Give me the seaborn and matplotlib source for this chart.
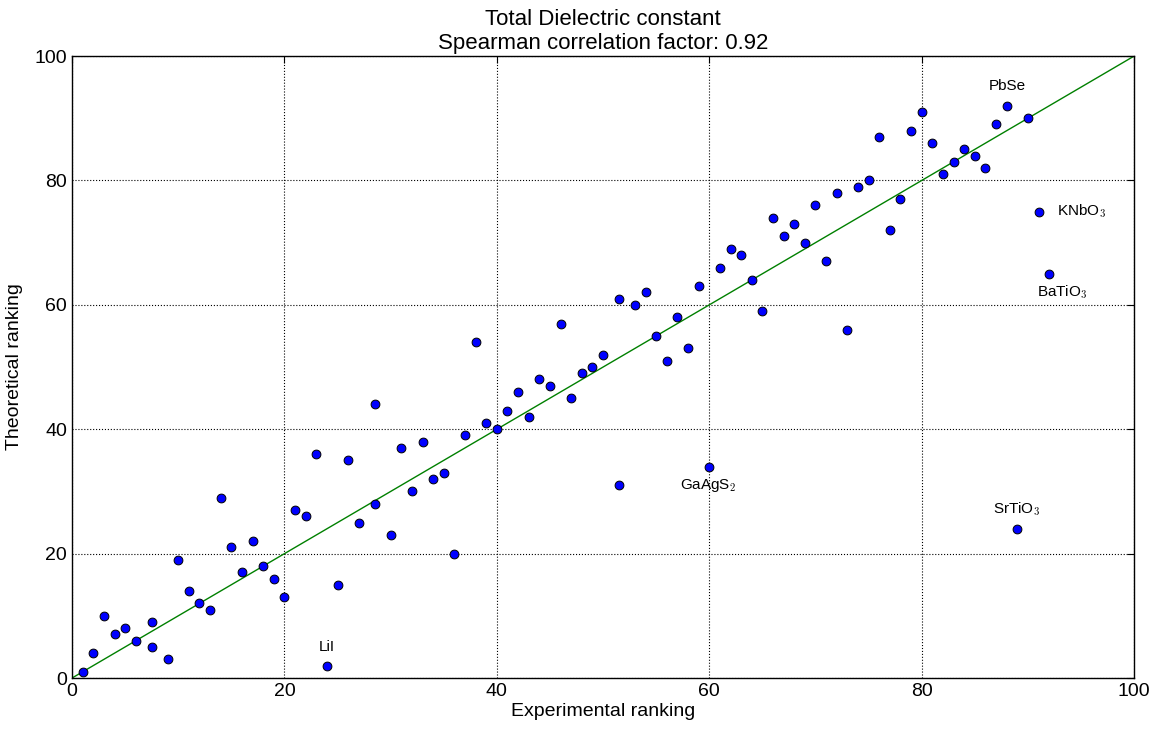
import numpy as np
import pandas as pd
import matplotlib
matplotlib.use('Agg')
import matplotlib.pyplot as plt
import seaborn as sns

# Ranking data
experimental = [1, 2, 3, 4, 5, 6, 7.5, 7.5, 9, 10, 11, 12, 13, 14, 15, 16, 17, 18, 19, 20,
                21, 22, 23, 24, 25, 26, 27, 28.5, 28.5, 30, 31, 32, 33, 34, 35, 36, 37, 38, 39, 40,
                41, 42, 43, 44, 45, 46, 47, 48, 49, 50, 51.5, 51.5, 53, 54, 55, 56, 57, 58, 59, 60,
                61, 62, 63, 64, 65, 66, 67, 68, 69, 70, 71, 72, 73, 74, 75, 76, 77, 78, 79, 80,
                81, 82, 83, 84, 85, 86, 87, 88, 89, 90, 91, 92]
theoretical = [1, 4, 10, 7, 8, 6, 9, 5, 3, 19, 14, 12, 11, 29, 21, 17, 22, 18, 16, 13,
               27, 26, 36, 2, 15, 35, 25, 44, 28, 23, 37, 30, 38, 32, 33, 20, 39, 54, 41, 40,
               43, 46, 42, 48, 47, 57, 45, 49, 50, 52, 61, 31, 60, 62, 55, 51, 58, 53, 63, 34,
               66, 69, 68, 64, 59, 74, 71, 73, 70, 76, 67, 78, 56, 79, 80, 87, 72, 77, 88, 91,
               86, 81, 83, 85, 84, 82, 89, 92, 24, 90, 75, 65]

label_names = ['PbSe', 'KNbO$_3$', 'BaTiO$_3$', 'GaAgS$_2$', 'SrTiO$_3$', 'LiI']
label_x = [88.1, 92.7, 93.2, 59.9, 88.9, 24.0]
label_y = [95.2, 75.0, 62.0, 30.9, 27.2, 5.0]
label_ha = ['center', 'left', 'center', 'center', 'center', 'center']

df = pd.DataFrame({'Experimental': experimental, 'Theoretical': theoretical})

sns.set_style('white')
plt.rcParams['font.family'] = ['Liberation Sans', 'DejaVu Sans']
plt.rcParams['mathtext.fontset'] = 'cm'
for key in ['text.color', 'axes.labelcolor', 'xtick.color', 'ytick.color']:
    plt.rcParams[key] = 'black'

fig = plt.figure(figsize=(11.62, 7.33), dpi=100)
ax = fig.add_axes([0.062, 0.075, 0.914, 0.8485])

ax.plot([0, 100], [0, 100], color='green', linewidth=1.0, zorder=2)
sns.scatterplot(x='Experimental', y='Theoretical', data=df, ax=ax, color='blue',
                edgecolor='black', linewidth=0.7, s=40, zorder=3)

for name, lx, ly, ha in zip(label_names, label_x, label_y, label_ha):
    ax.text(lx, ly, name, ha=ha, va='center', fontsize=11)

ax.set_xlim(0, 100)
ax.set_ylim(0, 100)
ax.set_xticks(range(0, 101, 20))
ax.set_yticks(range(0, 101, 20))
ax.grid(True, color='black', linestyle=':', linewidth=0.8)
ax.tick_params(direction='in', top=True, right=True, length=5, width=0.8, labelsize=14)
for sp in ax.spines.values():
    sp.set_color('black')
    sp.set_linewidth(1.0)

ax.set_title("Total Dielectric constant\nSpearman correlation factor: 0.92", fontsize=16, pad=5,
             linespacing=1.2)
ax.set_xlabel("Experimental ranking", fontsize=14, labelpad=2)
ax.set_ylabel("Theoretical ranking", fontsize=14, labelpad=8)

fig.savefig('out.png', dpi=100)
